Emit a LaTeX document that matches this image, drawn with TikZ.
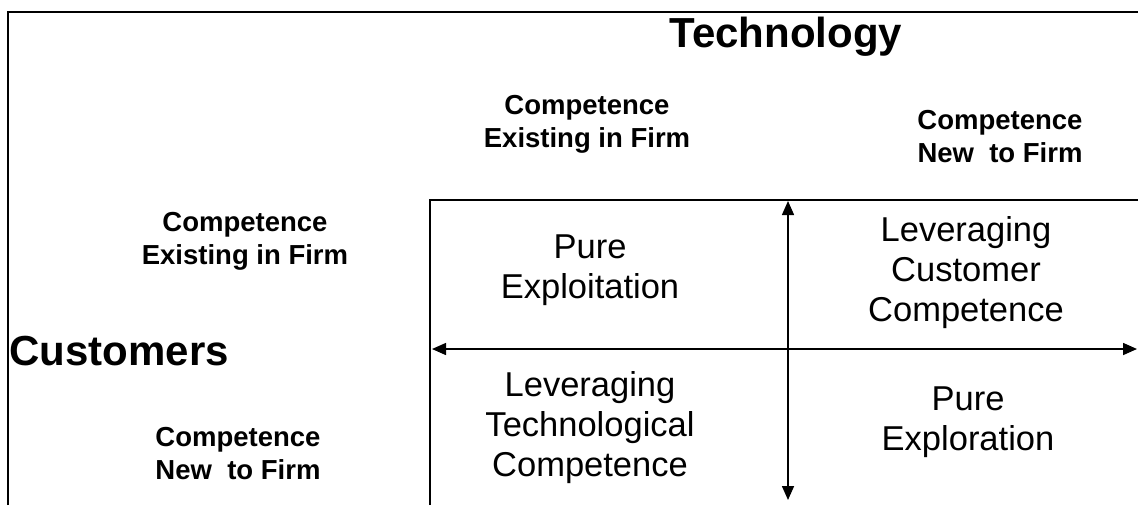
\documentclass[tikz,border=0pt]{standalone}
\usepackage{fontspec}
\setmainfont{Liberation Sans}
\usepackage{tikz}
\usetikzlibrary{arrows.meta, positioning}

\begin{document}
\begin{tikzpicture}[
        x=0.5pt, y=-0.5pt,
        every node/.style={align=center, inner sep=0pt},
        heading/.style={font=\fontsize{21}{24}\selectfont\bfseries},
        axislabel/.style={font=\fontsize{13.75}{16.5}\selectfont\bfseries},
        quadrant/.style={font=\fontsize{17.25}{20}\selectfont},
        axis/.style={line width=0.75pt, {Triangle[length=7pt, width=6pt]}-{Triangle[length=7pt, width=6pt]}},
    ]
        \useasboundingbox (0,0) rectangle (1138,505);

        % outer frame
        \draw[line width=1pt] (8,505) -- (8,12) -- (1138,12);

        % headings
        \node[heading, anchor=base] (technology) at (786,47) {Technology};
        \node[heading, anchor=base west] (customers) at (9,365) {Customers};

        % technology columns
        \node[axislabel] (techold) at (587,124) {Competence\\Existing in Firm};
        \node[axislabel] (technew) at (1000,137) {Competence\\New\ \ to Firm};

        % customer rows
        \node[axislabel] (custold) at (245,241) {Competence\\Existing in Firm};
        \node[axislabel] (custnew) at (238,454) {Competence\\New\ \ to Firm};

        % grid
        \coordinate (corner) at (430,200);
        \coordinate (vtop) at (788,201);
        \coordinate (vbot) at (788,500);
        \coordinate (hleft) at (432,349);
        \coordinate (hright) at (1137,349);
        \draw[line width=0.75pt] (corner |- 0,505) -- (corner) -- (1138,200);
        \draw[axis] (vtop) -- (vbot);
        \draw[axis] (hleft) -- (hright);

        % quadrants
        \node[quadrant] (exploit) at (590,270) {Pure\\Exploitation};
        \node[quadrant] (levcust) at (966,273) {Leveraging\\Customer\\Competence};
        \node[quadrant] (levtech) at (590,428) {Leveraging\\Technological\\Competence};
        \node[quadrant] (explore) at (968,422) {Pure\\Exploration};
    \end{tikzpicture}
\end{document}
